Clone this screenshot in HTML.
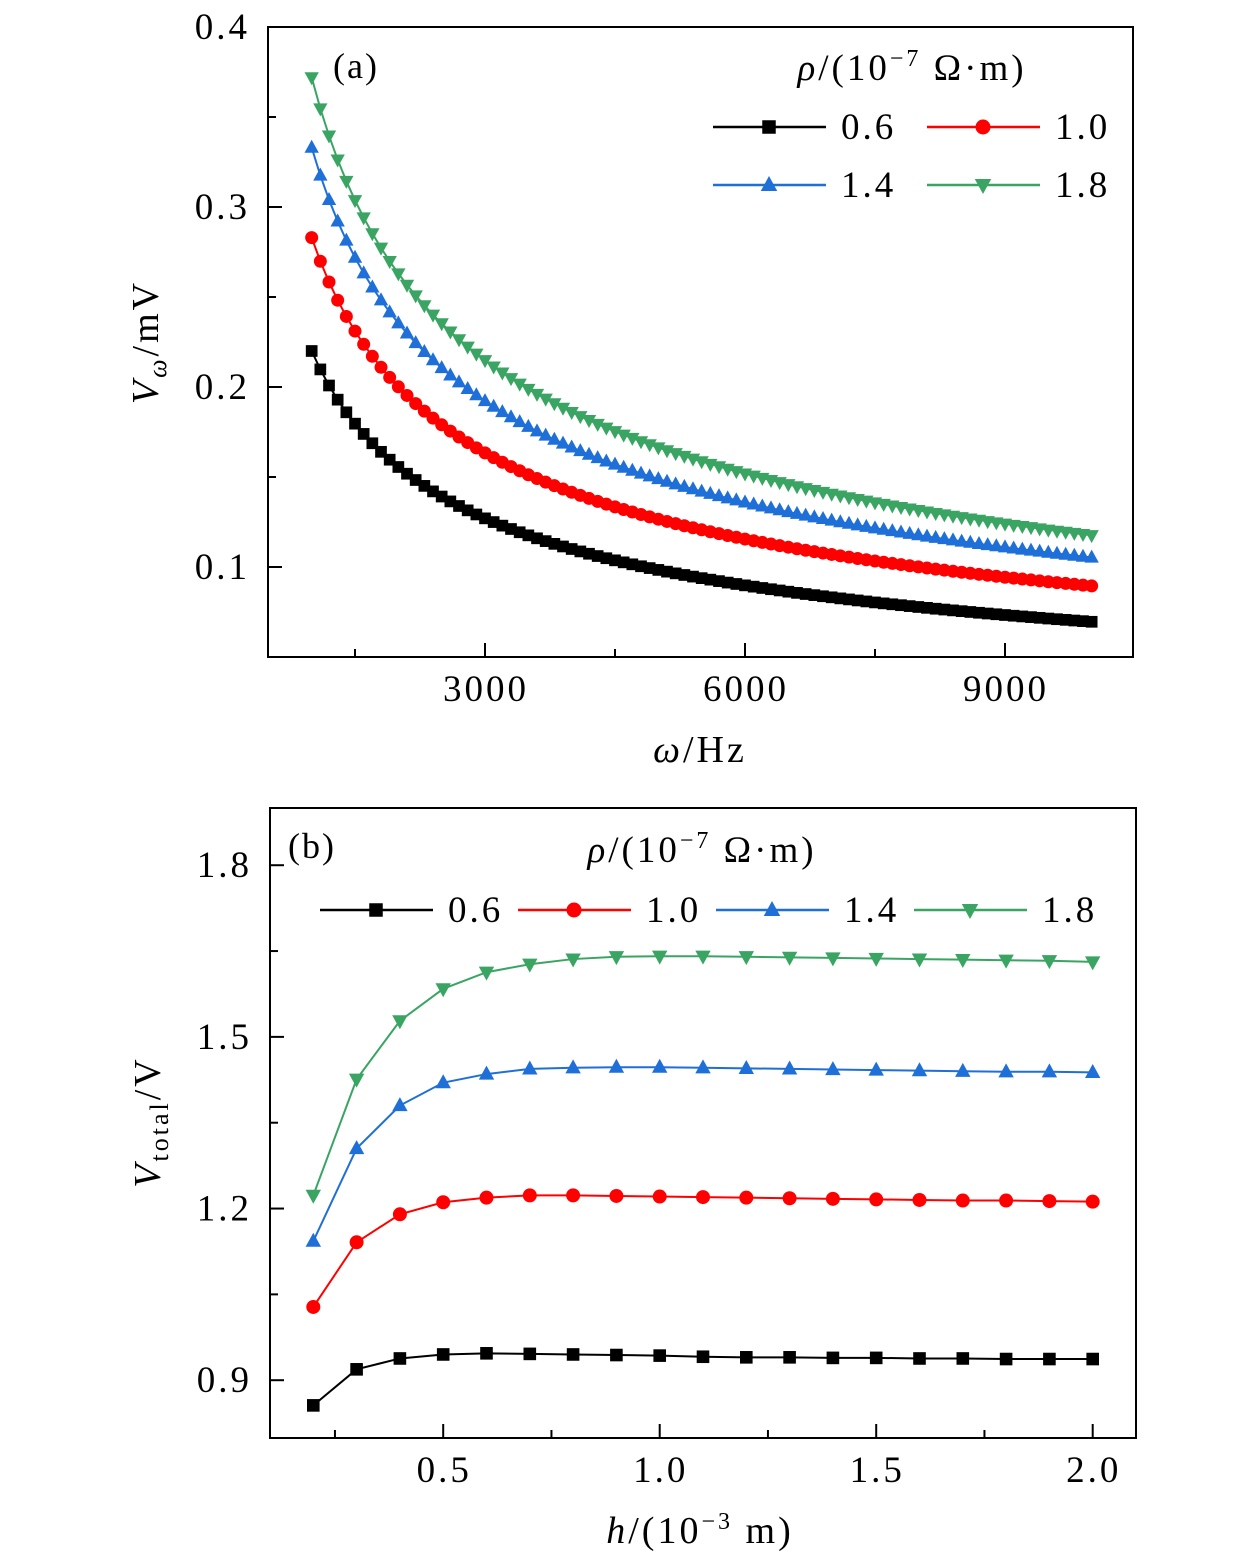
<!DOCTYPE html>
<html><head><meta charset="utf-8">
<style>
html,body{margin:0;padding:0;background:#fff;}
svg{display:block;font-family:"Liberation Serif",serif;}
</style></head>
<body>
<svg id="chart" width="1260" height="1559" viewBox="0 0 1260 1559" xmlns="http://www.w3.org/2000/svg">
  <g>
    <rect x="268" y="27" width="865" height="630" fill="none" stroke="#000" stroke-width="2"/>
    <g id="ga"></g>
    <text x="333" y="78" font-size="36" letter-spacing="2">(a)</text>
    <text x="700" y="762" font-size="38" letter-spacing="3" text-anchor="middle"><tspan font-style="italic">ω</tspan>/Hz</text>
    <text transform="translate(158,342) rotate(-90)" font-size="38" letter-spacing="3" text-anchor="middle"><tspan font-style="italic">V</tspan><tspan font-style="italic" font-size="26" dy="8">ω</tspan><tspan dy="-8">/mV</tspan></text>
    <text x="912" y="80" font-size="37" letter-spacing="3" text-anchor="middle"><tspan font-style="italic">ρ</tspan>/(10<tspan font-size="24" dy="-14">−7</tspan><tspan dy="14"> Ω·m)</tspan></text>
  </g>
  <g>
    <rect x="270" y="808" width="866" height="630" fill="none" stroke="#000" stroke-width="2"/>
    <g id="gb"></g>
    <text x="288" y="858" font-size="36" letter-spacing="2">(b)</text>
    <text x="700" y="1543" font-size="38" letter-spacing="3" text-anchor="middle"><tspan font-style="italic">h</tspan>/(10<tspan font-size="24" dy="-14">−3</tspan><tspan dy="14"> m)</tspan></text>
    <text transform="translate(160,1122) rotate(-90)" font-size="38" letter-spacing="3" text-anchor="middle"><tspan font-style="italic">V</tspan><tspan font-size="26" dy="8">total</tspan><tspan dy="-8">/V</tspan></text>
    <text x="702" y="862" font-size="37" letter-spacing="3" text-anchor="middle"><tspan font-style="italic">ρ</tspan>/(10<tspan font-size="24" dy="-14">−7</tspan><tspan dy="14"> Ω·m)</tspan></text>
  </g>
</svg>
<script>
// ---- Panel (a) data ----
const freqA = [];
for (let f = 1000; f <= 10000; f += 100) freqA.push(f);
const shapeA = [1.000,0.9535,0.9129,0.8771,0.8452,0.8165,0.7906,0.7670,0.7454,0.7255,0.7071,0.6901,0.6742,0.6594,0.6455,0.6325,0.6202,0.6086,0.5976,0.5872,0.5774,0.5680,0.5590,0.5505,0.5423,0.5345,0.5270,0.5199,0.5130,0.5064,0.5000,0.4939,0.4880,0.4822,0.4767,0.4714,0.4663,0.4613,0.4564,0.4518,0.4472,0.4428,0.4385,0.4344,0.4303,0.4264,0.4226,0.4189,0.4152,0.4117,0.4082,0.4049,0.4016,0.3984,0.3953,0.3922,0.3892,0.3863,0.3835,0.3807,0.3780,0.3753,0.3727,0.3701,0.3676,0.3651,0.3627,0.3604,0.3581,0.3558,0.3536,0.3514,0.3492,0.3471,0.3450,0.3430,0.3410,0.3390,0.3371,0.3352,0.3333,0.3315,0.3297,0.3280,0.3262,0.3244,0.3227,0.3211,0.3194,0.3178,0.3162];
const seriesNamesA = ["0.6","1.0","1.4","1.8"];
const v0A = [0.220, 0.283, 0.333, 0.372];
const xTicksA = [3000, 6000, 9000];
const xMinorA = [1500, 4500, 7500];
const yTicksA = [0.1, 0.2, 0.3, 0.4];
const yMinorA = [0.15, 0.25, 0.35];

// ---- Panel (b) data ----
const hB = [0.2,0.3,0.4,0.5,0.6,0.7,0.8,0.9,1.0,1.1,1.2,1.3,1.4,1.5,1.6,1.7,1.8,1.9,2.0];
const blackB = [0.856,0.919,0.938,0.945,0.947,0.946,0.945,0.944,0.943,0.941,0.940,0.940,0.939,0.939,0.938,0.938,0.937,0.937,0.937];
const redB = [1.028,1.141,1.190,1.211,1.219,1.223,1.223,1.222,1.221,1.220,1.219,1.218,1.217,1.216,1.215,1.214,1.214,1.213,1.212];
const blueB = [1.143,1.305,1.380,1.420,1.435,1.444,1.446,1.447,1.447,1.446,1.445,1.444,1.443,1.442,1.441,1.440,1.439,1.439,1.438];
const greenB = [1.223,1.426,1.528,1.584,1.613,1.627,1.636,1.640,1.641,1.641,1.640,1.639,1.638,1.637,1.636,1.635,1.634,1.633,1.631];
const xTicksB = [0.5, 1.0, 1.5, 2.0];
const xMinorB = [0.25, 0.75, 1.25, 1.75];
const yTicksB = [0.9, 1.2, 1.5, 1.8];
const yMinorB = [1.05, 1.35, 1.65];

const NS = "http://www.w3.org/2000/svg";
const colors = ["#000000", "#ff0000", "#1f6fd8", "#3aa563"];
const markers = ["square", "circle", "up", "down"];

function mk(tag, attrs, parent) {
  const e = document.createElementNS(NS, tag);
  for (const k in attrs) e.setAttribute(k, attrs[k]);
  parent.appendChild(e);
  return e;
}
function marker(g, type, x, y, c, s) {
  let e;
  if (type === "square") e = mk("rect", {x: x - s*0.45, y: y - s*0.45, width: s*0.9, height: s*0.9, fill: c}, g);
  else if (type === "circle") e = mk("circle", {cx: x, cy: y, r: s*0.5, fill: c}, g);
  else if (type === "up") e = mk("polygon", {points: `${x},${y - s*0.6} ${x - s*0.55},${y + s*0.4} ${x + s*0.55},${y + s*0.4}`, fill: c}, g);
  else e = mk("polygon", {points: `${x},${y + s*0.6} ${x - s*0.55},${y - s*0.4} ${x + s*0.55},${y - s*0.4}`, fill: c}, g);
  
  
  return e;
}

function axes(g, box, xs, ys, xT, xM, yT, yM, xFmt, yFmt) {
  xT.forEach(v => {
    const x = xs(v);
    const t = mk("line", {x1: x, x2: x, y1: box.b, y2: box.b - 14, stroke: "#000", "stroke-width": 2}, g);
    
    
    const l = mk("text", {x: x + 1, y: box.b + 44, "font-size": 37, "letter-spacing": 3, "text-anchor": "middle"}, g);
    l.textContent = xFmt(v);
    
    
  });
  xM.forEach(v => {
    const x = xs(v);
    const t = mk("line", {x1: x, x2: x, y1: box.b, y2: box.b - 8, stroke: "#000", "stroke-width": 2}, g);
    
    
  });
  yT.forEach(v => {
    const y = ys(v);
    const t = mk("line", {x1: box.l, x2: box.l + 14, y1: y, y2: y, stroke: "#000", "stroke-width": 2}, g);
    
    
    const l = mk("text", {x: box.l - 18, y: y + 12, "font-size": 37, "letter-spacing": 3, "text-anchor": "end"}, g);
    l.textContent = yFmt(v);
    
    
  });
  yM.forEach(v => {
    const y = ys(v);
    const t = mk("line", {x1: box.l, x2: box.l + 8, y1: y, y2: y, stroke: "#000", "stroke-width": 2}, g);
    
    
  });
}

function series(g, xs, ys, xv, yv, i, ms, sw) {
  const sg = mk("g", {}, g);
  
  
  const pts = xv.map((x, k) => xs(x) + "," + ys(yv[k])).join(" ");
  const pl = mk("polyline", {points: pts, fill: "none", stroke: colors[i], "stroke-width": sw}, sg);
  
  
  xv.forEach((x, k) => marker(sg, markers[i], xs(x), ys(yv[k]), colors[i], ms));
}

function legendEntry(g, x1, y, i, label) {
  const lg = mk("g", {}, g);
  
  
  const ln = mk("line", {x1: x1, x2: x1 + 113, y1: y, y2: y, stroke: colors[i], "stroke-width": 2.5}, lg);
  
  
  marker(lg, markers[i], x1 + 56, y, colors[i], 15);
  const t = mk("text", {x: x1 + 128, y: y + 12, "font-size": 37, "letter-spacing": 3}, lg);
  t.textContent = label;
  
  
}

// Panel a
(function () {
  const g = document.getElementById("ga");
  const box = {l: 268, r: 1133, t: 27, b: 657};
  const xmin = 496, xmax = 10477, ymin = 0.05, ymax = 0.4;
  const xs = v => box.l + (v - xmin) / (xmax - xmin) * (box.r - box.l);
  const ys = v => box.b - (v - ymin) / (ymax - ymin) * (box.b - box.t);
  axes(g, box, xs, ys, xTicksA, xMinorA, yTicksA, yMinorA, v => String(v), v => v.toFixed(1));
  [3, 2, 1, 0].forEach(i => {
    const vals = shapeA.map(s => s * v0A[i]);
    series(g, xs, ys, freqA, vals, i, 13, 2);
  });
  legendEntry(g, 713, 127, 0, "0.6");
  legendEntry(g, 927, 127, 1, "1.0");
  legendEntry(g, 713, 185, 2, "1.4");
  legendEntry(g, 927, 185, 3, "1.8");
})();

// Panel b
(function () {
  const g = document.getElementById("gb");
  const box = {l: 270, r: 1136, t: 808, b: 1438};
  const xmin = 0.1, xmax = 2.1, ymin = 0.799, ymax = 1.9;
  const xs = v => box.l + (v - xmin) / (xmax - xmin) * (box.r - box.l);
  const ys = v => box.b - (v - ymin) / (ymax - ymin) * (box.b - box.t);
  axes(g, box, xs, ys, xTicksB, xMinorB, yTicksB, yMinorB, v => v.toFixed(1), v => v.toFixed(1));
  const all = [blackB, redB, blueB, greenB];
  all.forEach((vals, i) => series(g, xs, ys, hB, vals, i, 14, 2));
  legendEntry(g, 320, 910, 0, "0.6");
  legendEntry(g, 518, 910, 1, "1.0");
  legendEntry(g, 716, 910, 2, "1.4");
  legendEntry(g, 914, 910, 3, "1.8");
})();
</script>
</body></html>
